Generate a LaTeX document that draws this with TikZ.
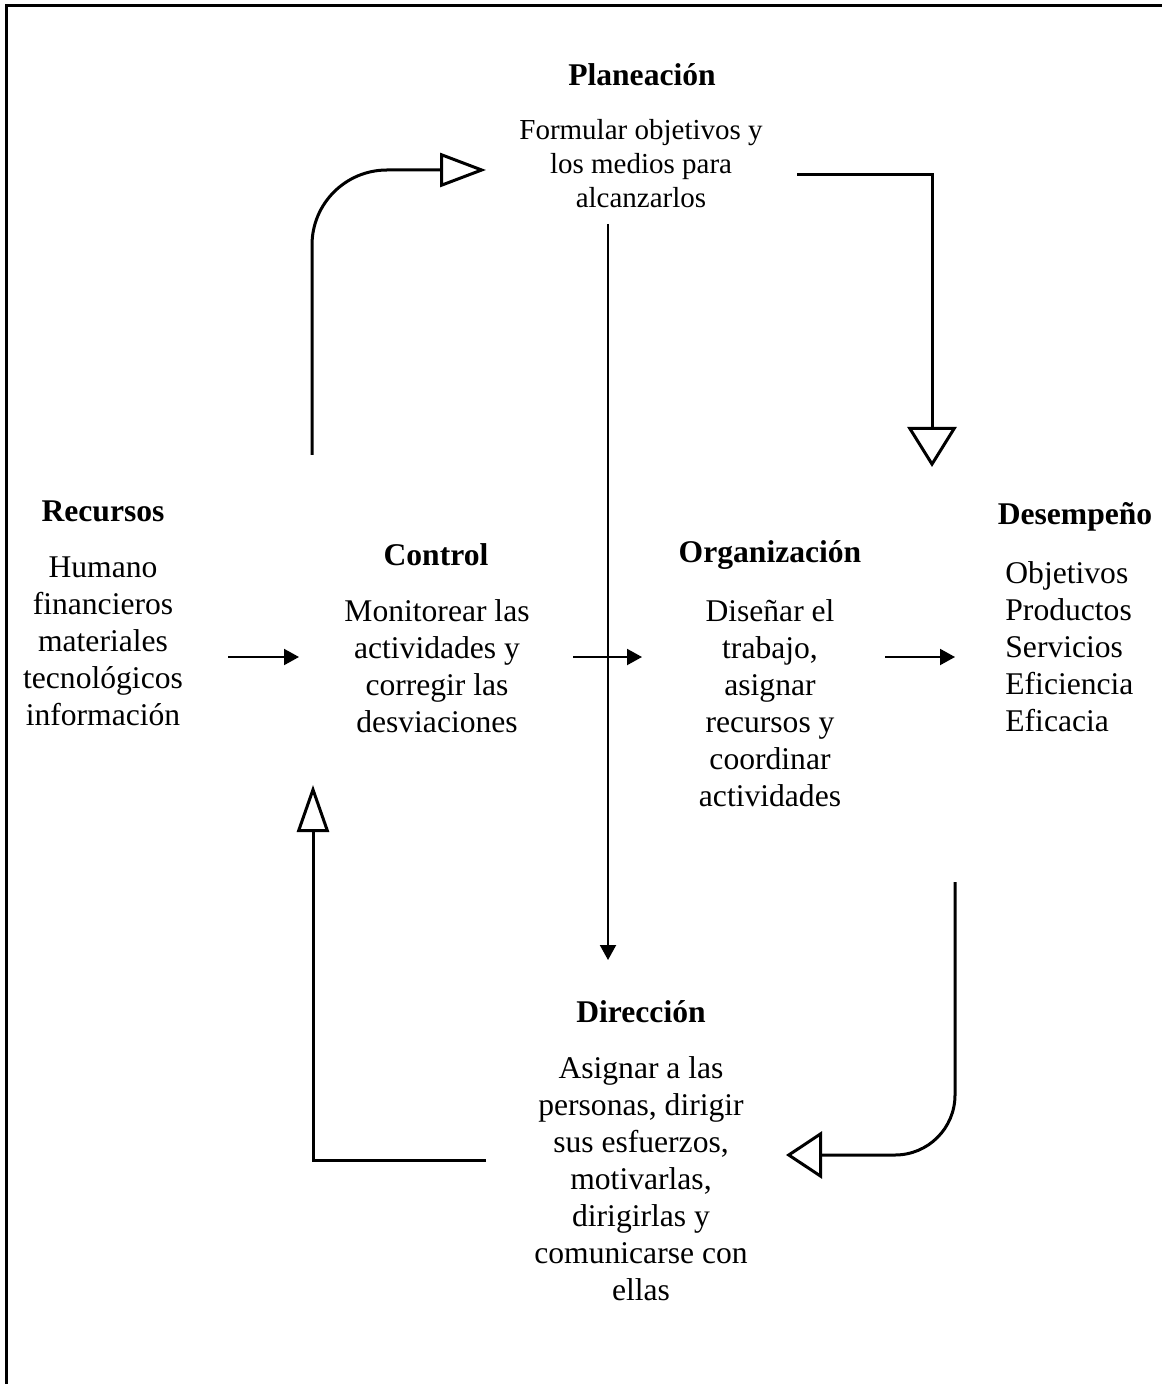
\documentclass[tikz,border=0pt]{standalone}
\usepackage{fontspec}
\setmainfont{Liberation Serif}
\usetikzlibrary{arrows.meta,calc}
\tikzset{>={Triangle[length=7.5pt,width=8pt]}}

\begin{document}
\begin{tikzpicture}[x=0.5pt, y=-0.5pt]

%% styles
\tikzstyle{head}=[font=\fontsize{15.8}{18.5}\selectfont\bfseries, inner sep=0pt]

\tikzstyle{body}=[font=\fontsize{15.8}{18.5}\selectfont, align=center, inner sep=0pt]

\tikzstyle{small}=[body, font=\fontsize{14.5}{17}\selectfont]

\tikzstyle{flow}=[draw, line width=1pt, ->]

\tikzstyle{loop}=[draw, line width=1.5pt]

\useasboundingbox (0, 0) rectangle (1162, 1384);

%% frame
\draw[line width=1.5pt] (6, 1384) -- (6, 6) -- (1162, 6);

%% titles
\node(T1)[style = head] at (642, 75) {Planeación};
\node(T2)[style = head] at (103, 511) {Recursos};
\node(T3)[style = head] at (436, 555) {Control};
\node(T4)[style = head] at (770, 555) {Organización};
\node(T5)[style = head] at (1075, 517) {Desempeño};
\node(T6)[style = head] at (641, 1012) {Dirección};

%% texts
\node(B1)[style = small] at (641, 164)
{
Formular objetivos y\\los medios para\\alcanzarlos
};

\node(B2)[style = body] at (103, 641.5)
{
Humano\\financieros\\materiales\\tecnológicos\\información
};

\node(B3)[style = body] at (437, 666.5)
{
Monitorear las\\actividades y\\corregir las\\desviaciones
};

\node(B4)[style = body] at (770, 703.5)
{
Diseñar el\\trabajo,\\asignar\\recursos y\\coordinar\\actividades
};

\node(B5)[style = body, align=left, anchor=west] at (1005, 647)
{
Objetivos\\Productos\\Servicios\\Eficiencia\\Eficacia
};

\node(B6)[style = body] at (641, 1178.5)
{
Asignar a las\\personas, dirigir\\sus esfuerzos,\\motivarlas,\\dirigirlas y\\comunicarse con\\ellas
};

%% arrows
\path [flow] ($(B2)+(125,15.5)$) -- ($(B3)+(-138,-9.5)$);

\path [flow] ($(B3)+(136,-9.5)$) -- ($(B4)+(-128,-46.5)$);

\path [flow] ($(B4)+(115,-46.5)$) -- ($(B5.west)+(-50,10)$);

\path [flow] ($(B1)+(-33,60)$) -- ($(T6)+(-33,-52)$);

%% cycle
\path [loop, rounded corners=37.5pt, -{Triangle[open,length=23pt,width=17pt]}]
  ($(T2)+(209,-56)$) |- ($(B1)+(-155,6)$);

\path [loop, -{Triangle[open,length=20pt,width=24.5pt]}]
  ($(B1)+(156,11)$) -| ($(T5)+(-143,-50)$);

\path [loop, rounded corners=30pt, -{Triangle[open,length=18pt,width=23.5pt]}]
  ($(T5)+(-120,365)$) |- ($(B6)+(145,-23.5)$);

\path [loop, -{Triangle[open,length=23.5pt,width=16pt]}]
  ($(B6)+(-155,-18.5)$) -| ($(B3)+(-124,118.5)$);

\end{tikzpicture}
\end{document}
